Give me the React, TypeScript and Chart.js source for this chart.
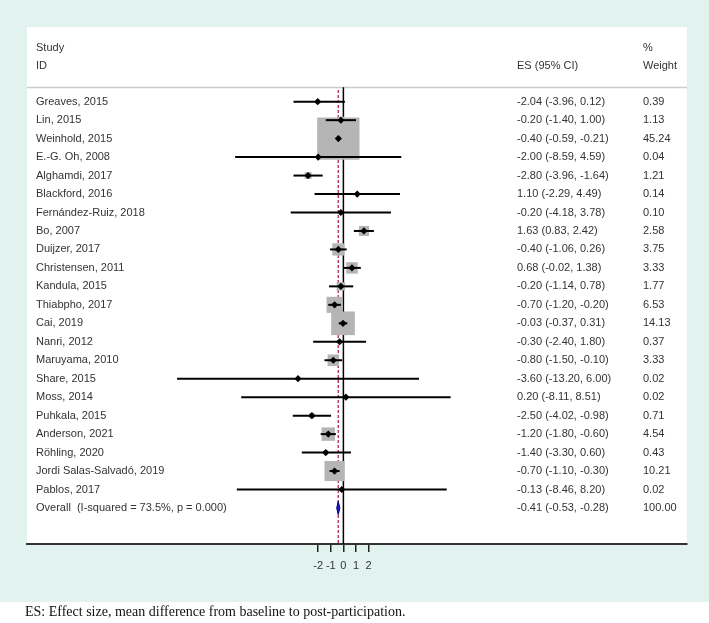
import React, { useEffect, useRef } from "react";
import { Chart, registerables } from "chart.js";

Chart.register(...registerables);

// ---- data ----
const studies = [
  "Greaves, 2015",
  "Lin, 2015",
  "Weinhold, 2015",
  "E.-G. Oh, 2008",
  "Alghamdi, 2017",
  "Blackford, 2016",
  "Fernández-Ruiz, 2018",
  "Bo, 2007",
  "Duijzer, 2017",
  "Christensen, 2011",
  "Kandula, 2015",
  "Thiabpho, 2017",
  "Cai, 2019",
  "Nanri, 2012",
  "Maruyama, 2010",
  "Share, 2015",
  "Moss, 2014",
  "Puhkala, 2015",
  "Anderson, 2021",
  "Röhling, 2020",
  "Jordi Salas-Salvadó, 2019",
  "Pablos, 2017",
];
const es = [-2.04, -0.2, -0.4, -2.0, -2.8, 1.1, -0.2, 1.63, -0.4, 0.68, -0.2, -0.7, -0.03, -0.3, -0.8, -3.6, 0.2, -2.5, -1.2, -1.4, -0.7, -0.13];
const lo = [-3.96, -1.4, -0.59, -8.59, -3.96, -2.29, -4.18, 0.83, -1.06, -0.02, -1.14, -1.2, -0.37, -2.4, -1.5, -13.2, -8.11, -4.02, -1.8, -3.3, -1.1, -8.46];
const hi = [0.12, 1.0, -0.21, 4.59, -1.64, 4.49, 3.78, 2.42, 0.26, 1.38, 0.78, -0.2, 0.31, 1.8, -0.1, 6.0, 8.51, -0.98, -0.6, 0.6, -0.3, 8.2];
const weights = [0.39, 1.13, 45.24, 0.04, 1.21, 0.14, 0.1, 2.58, 3.75, 3.33, 1.77, 6.53, 14.13, 0.37, 3.33, 0.02, 0.02, 0.71, 4.54, 0.43, 10.21, 0.02];

const overallLabel = "Overall  (I-squared = 73.5%, p = 0.000)";
const overallES = -0.41;
const overallLo = -0.53;
const overallHi = -0.28;
const overallWeight = 100.0;

const xTicks = [-2, -1, 0, 1, 2];
const footnote = "ES: Effect size, mean difference from baseline to post-participation.";

// ---- layout / style ----
const W = 709;
const H = 623;
const TEAL = "#e2f2ee";
const TEAL_BOTTOM = 602;
const SANS = "'Liberation Sans', Arial, Helvetica, sans-serif";
const SERIF = "'Liberation Serif', 'Times New Roman', serif";
const TXT = "#333333";
const STUDY_ROW = -2.92;
const ID_ROW = -1.95;
const HEADER_LINE = -0.78;
const Y_MIN = -4.044;
const Y_MAX = 23.95;
const X_MIN = -25.11;
const X_MAX = 27.27;
const COL_STUDY = 36;
const COL_ES = 517;
const COL_W = 643;

const fmt = (v: number) => v.toFixed(2);

const bgPlugin = {
  id: "bgPanel",
  beforeDraw(chart: any) {
    const { ctx, chartArea: a, width, height } = chart;
    ctx.save();
    ctx.fillStyle = "#ffffff";
    ctx.fillRect(0, 0, width, height);
    ctx.fillStyle = TEAL;
    ctx.fillRect(0, 0, width, TEAL_BOTTOM);
    ctx.fillStyle = "#ffffff";
    ctx.fillRect(a.left, a.top, a.right - a.left, a.bottom - a.top);
    const yl = Math.round(chart.scales.y.getPixelForValue(HEADER_LINE)) + 0.5;
    ctx.strokeStyle = "#cccccc";
    ctx.lineWidth = 1.5;
    ctx.beginPath();
    ctx.moveTo(a.left, yl);
    ctx.lineTo(a.right, yl);
    ctx.stroke();
    ctx.restore();
  },
};

const textPlugin = {
  id: "forestText",
  afterDatasetsDraw(chart: any) {
    const { ctx } = chart;
    const xs = chart.scales.x;
    const ys = chart.scales.y;
    // overall diamond
    const n = studies.length;
    const cy = ys.getPixelForValue(n);
    const h = ys.getPixelForValue(n + 0.36) - cy;
    ctx.save();
    ctx.beginPath();
    ctx.moveTo(xs.getPixelForValue(overallLo), cy);
    ctx.lineTo(xs.getPixelForValue(overallES), cy - h);
    ctx.lineTo(xs.getPixelForValue(overallHi), cy);
    ctx.lineTo(xs.getPixelForValue(overallES), cy + h);
    ctx.closePath();
    ctx.fillStyle = "#2222c8";
    ctx.fill();
    ctx.strokeStyle = "#000080";
    ctx.lineWidth = 1;
    ctx.stroke();
    ctx.restore();
  },
  afterDraw(chart: any) {
    const { ctx } = chart;
    const ys = chart.scales.y;
    ctx.save();
    ctx.font = `11px ${SANS}`;
    ctx.fillStyle = TXT;
    ctx.textBaseline = "middle";
    ctx.textAlign = "left";
    // header
    ctx.fillText("Study", COL_STUDY, ys.getPixelForValue(STUDY_ROW));
    ctx.fillText("ID", COL_STUDY, ys.getPixelForValue(ID_ROW));
    ctx.fillText("ES (95% CI)", COL_ES, ys.getPixelForValue(ID_ROW));
    ctx.fillText("%", COL_W, ys.getPixelForValue(STUDY_ROW));
    ctx.fillText("Weight", COL_W, ys.getPixelForValue(ID_ROW));
    studies.forEach((s, i) => {
      const y = ys.getPixelForValue(i);
      ctx.fillText(s, COL_STUDY, y);
      ctx.fillText(`${fmt(es[i])} (${fmt(lo[i])}, ${fmt(hi[i])})`, COL_ES, y);
      ctx.fillText(fmt(weights[i]), COL_W, y);
    });
    const oy = ys.getPixelForValue(studies.length);
    ctx.fillText(overallLabel, COL_STUDY, oy);
    ctx.fillText(`${fmt(overallES)} (${fmt(overallLo)}, ${fmt(overallHi)})`, COL_ES, oy);
    ctx.fillText(fmt(overallWeight), COL_W, oy);
    // footnote
    ctx.font = `14px ${SERIF}`;
    ctx.fillStyle = "#111111";
    ctx.fillText(footnote, 25, 612);
    ctx.restore();
  },
};

export default function App() {
  const ref = useRef<HTMLCanvasElement | null>(null);

  useEffect(() => {
    document.body.style.margin = "0";
    const canvas = ref.current;
    if (!canvas) return;

    const pts = es.map((v, i) => ({ x: v, y: i }));
    const ciSets = studies.map((_, i) => ({
      data: [
        { x: lo[i], y: i },
        { x: hi[i], y: i },
      ],
      showLine: true,
      borderColor: "#000000",
      borderWidth: 2,
      pointRadius: 0,
      order: 7,
    }));

    const chart = new Chart(canvas, {
      type: "scatter",
      data: {
        datasets: [
          {
            data: [
              { x: 0, y: HEADER_LINE },
              { x: 0, y: Y_MAX },
            ],
            showLine: true,
            borderColor: "#000000",
            borderWidth: 1.5,
            pointRadius: 0,
            order: 10,
          },
          {
            data: [
              { x: overallES, y: HEADER_LINE + 0.15 },
              { x: overallES, y: Y_MAX },
            ],
            showLine: true,
            borderColor: "#b0103c",
            borderWidth: 1.2,
            borderDash: [3, 2],
            pointRadius: 0,
            order: 9,
          },
          {
            data: pts,
            pointStyle: "rect",
            pointRadius: weights.map((w) => 4.45 * Math.sqrt(w)),
            backgroundColor: "#b5b5b5",
            borderWidth: 0,
            order: 8,
          },
          ...ciSets,
          {
            data: pts,
            pointStyle: "rectRot",
            pointRadius: 3.6,
            backgroundColor: "#000000",
            borderColor: "#000000",
            borderWidth: 0,
            order: 6,
          },
        ] as any,
      },
      options: {
        responsive: false,
        animation: false,
        events: [],
        layout: { autoPadding: false, padding: { left: 27, right: W - 687, top: 27, bottom: 0 } },
        plugins: {
          legend: { display: false },
          tooltip: { enabled: false },
        },
        scales: {
          x: {
            type: "linear",
            min: X_MIN,
            max: X_MAX,
            grid: {
              drawOnChartArea: false,
              drawTicks: true,
              tickLength: 8,
              color: "#222222",
              lineWidth: 1.5,
            },
            border: { display: true, color: "#333333", width: 2 },
            ticks: {
              autoSkip: false,
              maxRotation: 0,
              padding: 7,
              color: TXT,
              font: { family: SANS, size: 11 },
            },
            afterBuildTicks: (scale: any) => {
              scale.ticks = xTicks.map((v) => ({ value: v }));
            },
            afterFit: (scale: any) => {
              scale.height = H - 544;
            },
          },
          y: {
            type: "linear",
            display: false,
            reverse: true,
            min: Y_MIN,
            max: Y_MAX,
          },
        },
      } as any,
      plugins: [bgPlugin, textPlugin],
    });

    return () => chart.destroy();
  }, []);

  return (
    <div style={{ position: "absolute", left: 0, top: 0, width: W, height: H }}>
      <canvas ref={ref} width={W} height={H} style={{ width: W, height: H, display: "block" }} />
    </div>
  );
}
